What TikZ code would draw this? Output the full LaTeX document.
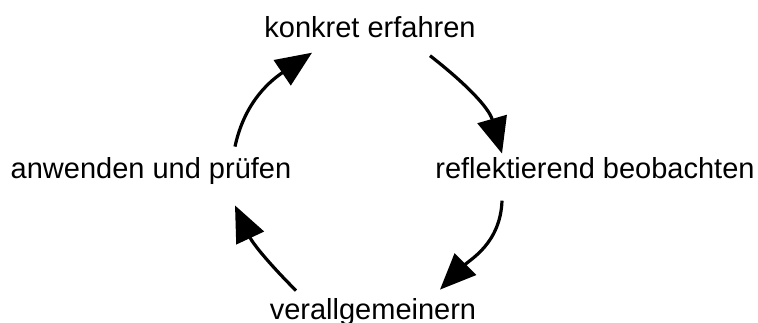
\documentclass[tikz,border=0pt]{standalone}
\usepackage{fontspec}
\setmainfont{Liberation Sans}
\usetikzlibrary{arrows.meta}

\begin{document}
\begin{tikzpicture}[
  x=0.5pt, y=0.5pt,
  phase/.style={inner sep=0pt, anchor=base, font=\fontsize{14.5}{17}\selectfont},
  cyc/.style={-{Triangle[length=18pt, width=15pt]}, line width=1.6pt}
]
\useasboundingbox (0,0) rectangle (758,322);

% Phases of the cycle
\node[phase] (konk) at (370,285) {konkret erfahren};
\node[phase] (refl) at (595,144) {reflektierend beobachten};
\node[phase] (verall) at (373,3) {verallgemeinern};
\node[phase] (anw) at (151,144) {anwenden und prüfen};

% Arrows round the cycle
\draw[cyc] ([shift={(84,10)}]anw.north) to[out=78, in=214] ([shift={(-58,-15)}]konk.south);
\draw[cyc] ([shift={(60,-18)}]konk.south) to[out=-38, in=106] ([shift={(-93,3)}]refl.north);
\draw[cyc] ([shift={(-93,-22)}]refl.south) to[out=-92, in=45] ([shift={(67,8)}]verall.north);
\draw[cyc] ([shift={(-77,7)}]verall.north) to[out=135, in=-65] ([shift={(84,-21)}]anw.south);

\end{tikzpicture}
\end{document}
